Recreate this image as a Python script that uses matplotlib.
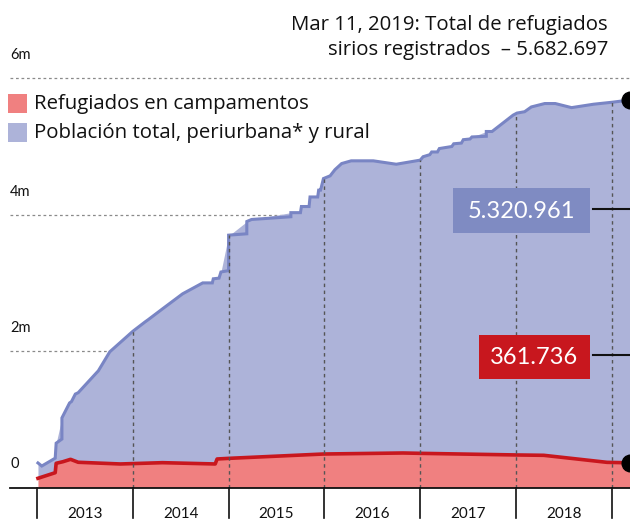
import numpy as np
import matplotlib
matplotlib.use("Agg")
import matplotlib.pyplot as plt
from matplotlib.patches import Rectangle

plt.rcParams['font.family'] = ['Lato', 'DejaVu Sans']

# ---- data (decimal years, people in millions) ----
total_years = [2013.01, 2013.05, 2013.19, 2013.20, 2013.26, 2013.26, 2013.34, 2013.36, 2013.40, 2013.43,
               2013.62, 2013.64, 2013.76, 2014.00, 2014.13, 2014.16, 2014.32, 2014.52, 2014.73, 2014.83,
               2014.84, 2014.90, 2014.92, 2015.00, 2015.00, 2015.19, 2015.19, 2015.24, 2015.65, 2015.65,
               2015.75, 2015.76, 2015.84, 2015.85, 2015.93, 2015.94, 2015.96, 2015.99, 2016.06, 2016.11,
               2016.18, 2016.28, 2016.51, 2016.75, 2017.00, 2017.03, 2017.10, 2017.12, 2017.18, 2017.20,
               2017.33, 2017.35, 2017.43, 2017.45, 2017.52, 2017.54, 2017.69, 2017.69, 2017.75, 2017.97,
               2018.01, 2018.09, 2018.16, 2018.30, 2018.41, 2018.58, 2018.81, 2019.01, 2019.19]
total_values = [0.36, 0.315, 0.43, 0.65, 0.71, 1.02, 1.24, 1.26, 1.37, 1.39,
                1.68, 1.71, 1.99, 2.29, 2.43, 2.46, 2.63, 2.84, 3.00, 3.00,
                3.06, 3.07, 3.16, 3.18, 3.70, 3.72, 3.90, 3.93, 3.97, 4.03,
                4.03, 4.12, 4.12, 4.26, 4.26, 4.36, 4.36, 4.53, 4.57, 4.66,
                4.75, 4.79, 4.79, 4.74, 4.80, 4.85, 4.88, 4.92, 4.92, 4.97,
                5.00, 5.04, 5.05, 5.10, 5.11, 5.14, 5.15, 5.22, 5.22, 5.46,
                5.49, 5.51, 5.58, 5.63, 5.63, 5.57, 5.62, 5.65, 5.682697]
camp_years = [2013.01, 2013.19, 2013.20, 2013.27, 2013.35, 2013.43, 2013.87, 2014.31, 2014.86, 2014.88,
              2015.01, 2015.99, 2016.82, 2017.00, 2018.01, 2018.29, 2018.95, 2019.19]
camp_values = [0.135, 0.217, 0.355, 0.378, 0.413, 0.370, 0.345, 0.364, 0.345, 0.418,
               0.428, 0.491, 0.506, 0.501, 0.477, 0.472, 0.369, 0.361736]

years = [2013, 2014, 2015, 2016, 2017, 2018]
y_ticks = [0, 2, 4, 6]
y_labels = ["0", "2m", "4m", "6m"]

legend_labels = ["Refugiados en campamentos", "Población total, periurbana* y rural"]
title_lines = ["Mar 11, 2019: Total de refugiados", "sirios registrados  \u2013 5.682.697"]
noncamp_label = "5.320.961"
camp_label = "361.736"

# ---- colours ----
RED_FILL = "#f08080"
RED_LINE = "#c8171e"
BLUE_FILL = "#adb3d9"
BLUE_LINE = "#7985c4"
BLUE_BOX = "#7f8bc2"

TEXT_FONT = ['Open Sans', 'DejaVu Sans']

W, H = 630, 521
fig = plt.figure(figsize=(W / 100, H / 100), dpi=100)
base_px = 487.5
ax = fig.add_axes([0, (H - base_px) / H, 1, base_px / H])
px_per_m = 68.2
xmin = 2013 - 37 / 95.8
xmax = xmin + W / 95.8
ax.set_xlim(xmin, xmax)
ax.set_ylim(0, base_px / px_per_m)
ax.axis('off')

ty = np.array(total_years)
tv = np.array(total_values)
cy = np.array(camp_years)
cv = np.array(camp_values)

# gridlines
for v in y_ticks[1:]:
    ax.plot([xmin + 10 / 95.8, xmax], [v, v], color="#8a8a8a", lw=0.9,
            dashes=(2.2, 2.2), zorder=1)
for v, lab in zip(y_ticks, y_labels):
    ax.text(xmin + 10 / 95.8, v + 23 / px_per_m, lab, fontsize=10.5,
            va='center', ha='left', color="#111111")

# areas
grid_x = np.union1d(ty, cy)
t_i = np.interp(grid_x, ty, tv)
c_i = np.interp(grid_x, cy, cv)
ax.fill_between(grid_x, c_i, t_i, color=BLUE_FILL, lw=0, zorder=2)
ax.fill_between(cy, 0, cv, color=RED_FILL, lw=0, zorder=2)
ax.plot(ty, tv, color=BLUE_LINE, lw=2.2, zorder=3, solid_joinstyle='miter')
ax.plot(cy, cv, color=RED_LINE, lw=2.6, zorder=4)

# vertical dotted lines at year boundaries
for yr in years[1:] + [2019]:
    top = np.interp(yr, ty, tv)
    ax.plot([yr, yr], [0, top], color="#555555", lw=1.0, dashes=(2.5, 2.5), zorder=5)

# baseline axis
ax.plot([xmin + 10 / 95.8, xmax], [0, 0], color="#111111", lw=1.3, zorder=6, clip_on=False)
for yr in years + [2019]:
    ax.plot([yr, yr], [0, -30 / px_per_m], color="#111111", lw=1.2, clip_on=False, zorder=6)
for yr in years:
    ax.text(yr + 0.5, -26 / px_per_m, str(yr), fontsize=11, ha='center', va='center',
            color="#111111", clip_on=False)

# end dots
ax.plot([ty[-1]], [tv[-1]], 'o', color='black', ms=12, zorder=7, clip_on=True)
ax.plot([cy[-1]], [cv[-1]], 'o', color='black', ms=12, zorder=7, clip_on=True)


def fx(x):
    return x / W


def fy(y):
    return 1 - y / H


# title
for i, line in enumerate(title_lines):
    fig.text(fx(608), fy(25 + 25 * i), line, ha='right', va='center', fontsize=14.7,
             color="#111111", family=TEXT_FONT)

# legend
for i, (lab, col) in enumerate(zip(legend_labels, [RED_FILL, BLUE_FILL])):
    y0 = 94 + i * 29
    fig.patches.append(Rectangle((fx(8), fy(y0 + 19)), 19 / W, 19 / H, transform=fig.transFigure,
                                 facecolor=col, edgecolor='none'))
    fig.text(fx(34), fy(y0 + 10), lab, ha='left', va='center', fontsize=14.7, color="#111111",
             family=TEXT_FONT)


# value boxes
def value_box(x0, y0, x1, y1, col, text, line_y):
    fig.patches.append(Rectangle((fx(x0), fy(y1)), (x1 - x0) / W, (y1 - y0) / H,
                                 transform=fig.transFigure, facecolor=col, edgecolor='none', zorder=8))
    fig.text(fx((x0 + x1) / 2), fy((y0 + y1) / 2 + 1), text, ha='center', va='center',
             fontsize=17, color='white', zorder=9)
    fig.lines.append(plt.Line2D([fx(x1 + 3), fx(W)], [fy(line_y), fy(line_y)],
                                transform=fig.transFigure, color='#111111', lw=1.5, zorder=8))


value_box(453, 188, 590, 233, BLUE_BOX, noncamp_label, 209)
value_box(479, 335, 590, 379, RED_LINE, camp_label, 355)

fig.savefig("out.png", dpi=100)
